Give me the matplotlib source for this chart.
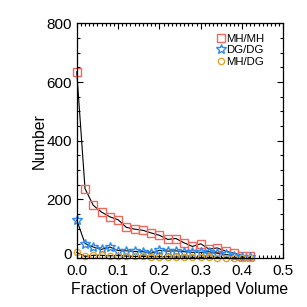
import numpy as np
import matplotlib
matplotlib.use("Agg")
import matplotlib.pyplot as plt
from matplotlib.lines import Line2D
from matplotlib.ticker import MultipleLocator, FormatStrFormatter, FuncFormatter
from matplotlib.transforms import ScaledTranslation

plt.rcParams['font.family'] = ['Liberation Sans', 'DejaVu Sans']

# bins of overlapped volume fraction
frac = np.arange(22) * 0.02

mh_mh = [635, 237, 180, 157, 141, 131, 105, 99, 95, 86, 78,
         64, 67, 52, 40, 49, 31, 35, 24, 17, 9, 8]
dg_dg = [130, 50, 38, 30, 38, 26, 25, 23, 22, 17, 27,
         24, 25, 22, 20, 20, 22, 17, 13, 9, 5, 3]
mh_dg = [20, 6, 10, 10, 8, 9, 7, 6, 6, 5, 5,
         5, 4, 4, 3, 3, 3, 2, 2, 1, 1, 1]

labels = ["MH/MH", "DG/DG", "MH/DG"]
colors = ["#f4675c", "#2a8cf0", "#e3a52a"]
markers = ["s", "*", "o"]
sizes = [5.5, 7, 4.5]

fig = plt.figure(figsize=(3.07, 3.07), dpi=100)
ax = fig.add_axes([0.25, 0.159, 0.673, 0.765])

handles = []
for y, lab, c, m, s in zip([mh_mh, dg_dg, mh_dg], labels, colors, markers, sizes):
    ax.plot(frac, y, color='k', lw=0.8, clip_on=False)
    ax.plot(frac, y, ls='none', marker=m, ms=s, mfc='none', mec=c, mew=1.0, clip_on=False)
    handles.append(Line2D([], [], ls='none', marker=m, ms=s, mfc='none', mec=c, mew=1.0, label=lab))

ax.set_xlim(0, 0.5)
ax.set_ylim(0, 800)
ax.xaxis.set_major_locator(MultipleLocator(0.1))
ax.xaxis.set_minor_locator(MultipleLocator(0.01))
ax.yaxis.set_major_locator(MultipleLocator(200))
ax.yaxis.set_minor_locator(MultipleLocator(50))
ax.xaxis.set_major_formatter(FormatStrFormatter('%.1f'))
# "0" is drawn separately, a bit above its tick, as in the original
ax.yaxis.set_major_formatter(FuncFormatter(lambda v, p: '' if v == 0 else '%d' % v))
ax.tick_params(which='both', direction='in', top=True, right=True, labelsize=11, width=0.8)
ax.tick_params(which='major', length=4)
ax.tick_params(axis='x', pad=4)
ax.tick_params(which='minor', length=2)
for sp in ax.spines.values():
    sp.set_linewidth(0.9)

shift = ScaledTranslation(-3.5 / 72, 5 / 100, fig.dpi_scale_trans)
ax.text(0, 0, '0', fontsize=11, ha='right', va='center_baseline',
        transform=ax.get_yaxis_transform() + shift)

ax.set_xlabel("Fraction of Overlapped Volume", fontsize=11.3, labelpad=3)
ax.set_ylabel("Number", fontsize=11.3, labelpad=0)

ax.legend(handles=handles, loc='upper right', frameon=False, fontsize=8.2,
          handlelength=0.6, handletextpad=0.15, labelspacing=0.15,
          borderaxespad=0.0, bbox_to_anchor=(0.93, 0.975))

fig.savefig("out.png", dpi=100)
